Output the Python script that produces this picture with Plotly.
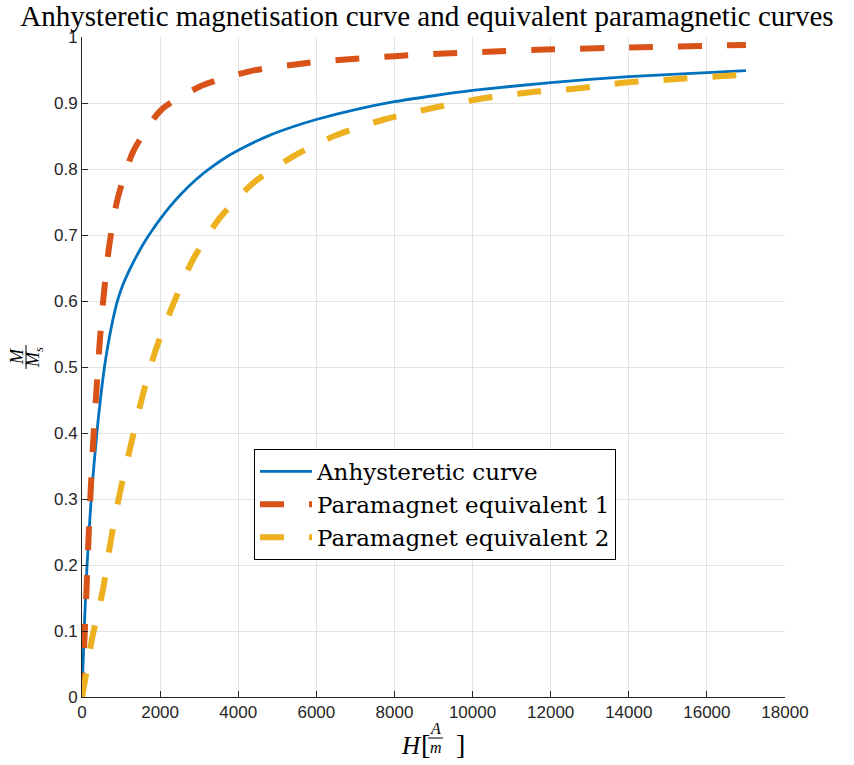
import plotly.graph_objects as go

# ---- data ----
H_anhyst = [0, 55, 130, 235, 380, 575, 670, 760, 830, 888, 960, 1050, 1160, 1300, 1460, 1640,
            1820, 2000, 2250, 2550, 2900, 3300, 3750, 4250, 4800, 5400, 6000, 7000, 8000,
            9000, 10000, 12000, 14000, 16000, 17000]
M_anhyst = [0, 0.10, 0.20, 0.30, 0.40, 0.50, 0.535, 0.563, 0.582, 0.596, 0.610, 0.625, 0.640,
            0.657, 0.675, 0.693, 0.709, 0.724, 0.743, 0.763, 0.783, 0.802, 0.820, 0.836,
            0.851, 0.864, 0.875, 0.890, 0.902, 0.911, 0.919, 0.931, 0.940, 0.946, 0.949]

H_para1 = [0, 50, 100, 160, 220, 290, 370, 450, 550, 700, 920, 1315, 2020, 3060, 4290,
           5660, 6750, 8000, 9280, 10540, 11850, 14000, 17000]
M_para1 = [0, 0.07, 0.14, 0.23, 0.31, 0.39, 0.465, 0.535, 0.605, 0.685, 0.757, 0.827, 0.889,
           0.926, 0.948, 0.960, 0.966, 0.971, 0.975, 0.978, 0.981, 0.984, 0.988]

H_para2 = [0, 77, 256, 538, 734, 965, 1247, 1536, 1877, 2320, 2825, 3490, 4370, 5430, 6535,
           7730, 8950, 10170, 11430, 12660, 13920, 15170, 16420, 17000]
M_para2 = [0, 0.025, 0.088, 0.163, 0.236, 0.308, 0.381, 0.453, 0.524, 0.593, 0.661, 0.723,
           0.778, 0.820, 0.852, 0.875, 0.892, 0.906, 0.916, 0.922, 0.931, 0.936, 0.941, 0.943]

series_names = ["Anhysteretic curve", "Paramagnet equivalent 1", "Paramagnet equivalent 2"]

x_tickvals = [0, 2000, 4000, 6000, 8000, 10000, 12000, 14000, 16000, 18000]
x_ticktext = ["0", "2000", "4000", "6000", "8000", "10000", "12000", "14000", "16000", "18000"]
y_tickvals = [0, 0.1, 0.2, 0.3, 0.4, 0.5, 0.6, 0.7, 0.8, 0.9, 1]
y_ticktext = ["0", "0.1", "0.2", "0.3", "0.4", "0.5", "0.6", "0.7", "0.8", "0.9", "1"]

title_text = "Anhysteretic magnetisation curve and equivalent paramagnetic curves"

# ---- layout geometry ----
W, Hh = 854, 765
L, R, T, B = 82, 785, 37, 697


def px(xp):
    return (xp - L) / (R - L)


def py(yp):
    return (B - yp) / (B - T)


SERIF = "Liberation Serif, Times New Roman, serif"
LEGSERIF = "DejaVu Serif, serif"
SANS = "Liberation Sans, Arial, Helvetica, sans-serif"
AX = "#262626"

fig = go.Figure()
fig.add_trace(go.Scatter(x=H_anhyst, y=M_anhyst, mode="lines", name=series_names[0],
                         line=dict(color="#0072BD", width=2.8, shape="spline", smoothing=0.6)))
fig.add_trace(go.Scatter(x=H_para1, y=M_para1, mode="lines", name=series_names[1],
                         line=dict(color="#D95319", width=6, shape="spline", smoothing=0.7,
                                   dash="24px,25px")))
fig.add_trace(go.Scatter(x=H_para2, y=M_para2, mode="lines", name=series_names[2],
                         line=dict(color="#EDB120", width=6, shape="spline", smoothing=0.7,
                                   dash="24px,25px")))

annotations = [
    # x axis label H[A/m]
    dict(x=px(411), y=py(745), text="<i>H</i>", font=dict(family=SERIF, size=25, color="#000")),
    dict(x=px(425), y=py(744), text="[", font=dict(family=SERIF, size=28, color="#000")),
    dict(x=px(435.5), y=py(728), text="<i>A</i>", font=dict(family=SERIF, size=16, color="#000")),
    dict(x=px(435.5), y=py(748), text="<i>m</i>", font=dict(family=SERIF, size=16, color="#000")),
    dict(x=px(460), y=py(744), text="]", font=dict(family=SERIF, size=28, color="#000")),
    # y axis label M/M_s (rotated fraction)
    dict(x=px(17), y=py(357), text="<i>M</i>", textangle=-90,
         font=dict(family=SERIF, size=18, color="#000")),
    dict(x=px(34), y=py(357), text="<i>M<sub>s</sub></i>", textangle=-90,
         font=dict(family=SERIF, size=18, color="#000")),
]
for a in annotations:
    a.update(xref="paper", yref="paper", showarrow=False, xanchor="center", yanchor="middle")

shapes = [
    dict(type="line", xref="paper", yref="paper", x0=px(428), x1=px(443), y0=py(738), y1=py(738),
         line=dict(color="#000", width=1)),
    dict(type="line", xref="paper", yref="paper", x0=px(26), x1=px(26), y0=py(345), y1=py(369),
         line=dict(color="#000", width=1)),
]

fig.update_layout(
    width=W, height=Hh,
    margin=dict(l=L, r=W - R, t=T, b=Hh - B, autoexpand=False),
    paper_bgcolor="white", plot_bgcolor="white",
    title=dict(text=title_text, x=0.5, xref="container", xanchor="center",
               y=1 - 16 / Hh, yref="container", yanchor="middle",
               font=dict(family=SERIF, size=29, color="#000")),
    xaxis=dict(range=[0, 18000], tickvals=x_tickvals, ticktext=x_ticktext,
               showgrid=True, gridcolor="#e3e3e3", gridwidth=1,
               showline=True, linecolor=AX, linewidth=1,
               ticks="inside", ticklen=6, tickcolor=AX,
               tickfont=dict(family=SANS, size=17, color=AX), zeroline=False),
    yaxis=dict(range=[0, 1], tickvals=y_tickvals, ticktext=y_ticktext,
               showgrid=True, gridcolor="#e3e3e3", gridwidth=1,
               showline=True, linecolor=AX, linewidth=1,
               ticks="inside", ticklen=6, tickcolor=AX,
               tickfont=dict(family=SANS, size=17, color=AX), zeroline=False),
    legend=dict(x=px(254), y=py(449), xanchor="left", yanchor="top",
                bgcolor="white", bordercolor="#000", borderwidth=1,
                font=dict(family=LEGSERIF, size=23, color="#000"),
                tracegroupgap=0, itemwidth=52),
    annotations=annotations,
    shapes=shapes,
    showlegend=True,
)

fig.write_html("out.html", config={"displayModeBar": False},
               post_script="document.body.style.margin='0';document.body.style.overflow='hidden';")
